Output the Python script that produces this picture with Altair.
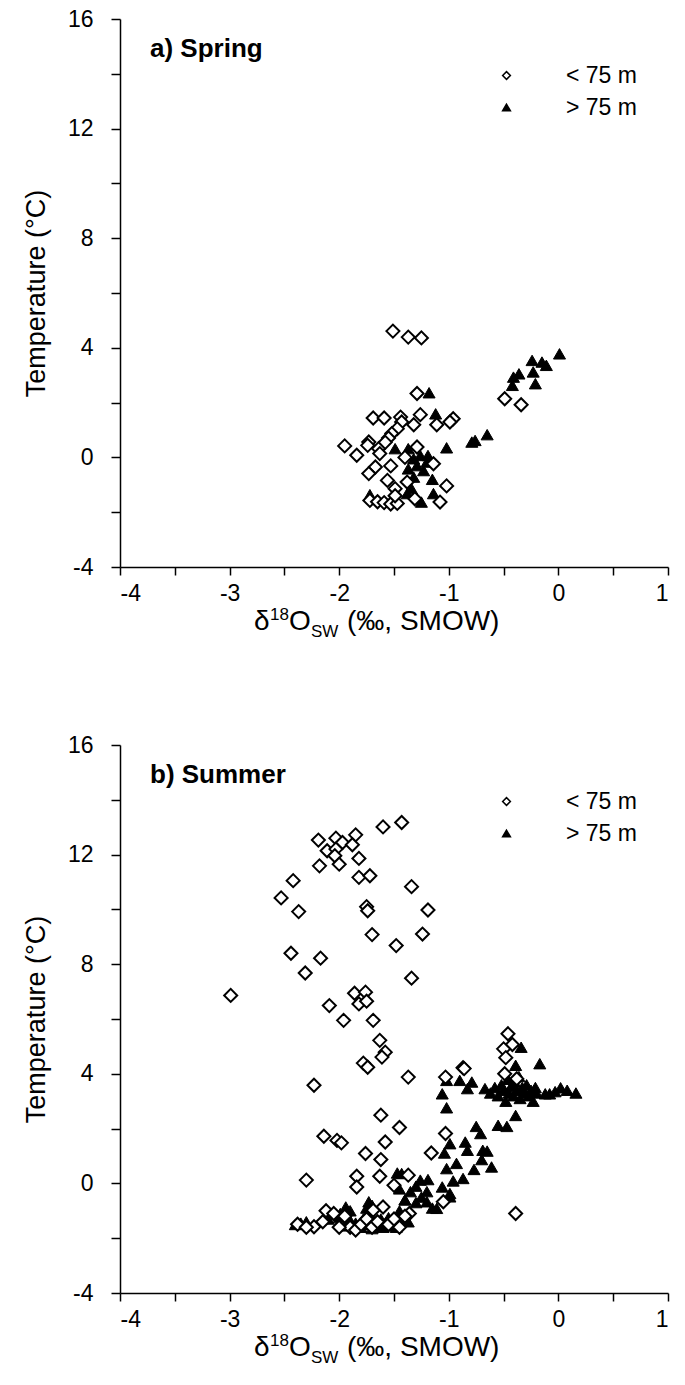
import altair as alt
import pandas as pd

GROUPS = ["< 75 m", "> 75 m"]

# ---- Panel a) Spring ----
spring_shallow_x = [-1.51, -1.37, -1.25, -1.29, -1.69, -1.59, -1.44, -1.26, -1.11, -0.96, -0.99, -1.32,
                    -1.43, -1.47, -1.52, -1.55, -1.95, -1.84, -1.73, -1.74, -1.64, -1.63, -1.29, -1.14,
                    -1.53, -1.67, -1.73, -1.56, -1.49, -1.38, -1.02, -1.08, -1.31, -1.72, -1.65, -1.59,
                    -1.53, -1.47, -1.49, -0.49, -0.34, -1.40, -1.58]
spring_shallow_y = [4.61, 4.39, 4.36, 2.33, 1.44, 1.44, 1.47, 1.56, 1.19, 1.41, 1.29, 1.19,
                    1.29, 1.05, 0.87, 0.71, 0.42, 0.08, 0.56, 0.44, 0.32, 0.14, 0.38, -0.23,
                    -0.31, -0.35, -0.59, -0.84, -1.14, -0.90, -1.04, -1.63, -1.51, -1.57, -1.62, -1.65,
                    -1.70, -1.68, -1.40, 2.14, 1.92, 0.00, 0.55]
spring_deep_x = [-1.18, -1.12, -1.49, -1.37, -1.02, -1.15, -1.14, -1.25, -1.72, -1.38, -1.34,
                 -1.32, -1.26, -1.19, -1.37, -1.29, -1.23, -1.32, -1.20,
                 -0.24, -0.15, -0.11, -0.36, -0.41, -0.23, -0.42, -0.21, 0.01, -0.65, -0.79, -0.76]
spring_deep_y = [2.36, 1.59, 0.32, 0.32, 0.35, -0.80, -1.32, -1.63, -1.36, -1.32, -1.14,
                 -0.05, 0.07, 0.07, -0.42, -0.30, -0.48, -0.72, -0.17,
                 3.54, 3.48, 3.36, 3.05, 2.93, 3.12, 2.63, 2.69, 3.78, 0.83, 0.56, 0.62]

# ---- Panel b) Summer ----
summer_shallow_x = [-1.43, -1.60, -2.19, -2.03, -1.85, -1.97, -2.11, -2.03, -1.88, -2.04, -2.18, -2.00,
                    -1.82, -1.82, -1.72, -2.42, -2.53, -2.37, -1.34, -1.75, -1.74, -1.19, -1.24, -1.70,
                    -1.48, -2.44, -2.17, -2.31, -1.34, -2.99, -1.86, -1.76, -1.82, -1.75, -2.09, -1.96,
                    -1.69, -1.63, -1.58, -1.61, -1.78, -1.74, -0.87, -1.37, -2.23, -1.62, -2.14, -2.02,
                    -1.98, -1.76, -1.58, -1.45, -1.62, -2.30, -1.84, -1.84, -1.63, -1.50, -2.12, -2.38,
                    -2.23, -2.15, -1.60, -0.46, -0.42, -0.50, -0.48, -0.86, -1.03, -0.49, -0.38, -1.03,
                    -1.16, -1.37, -1.05, -0.39, -1.36, -1.69,
                    -2.30, -1.95, -1.90, -1.85, -1.80, -1.75, -1.70, -1.65, -1.55, -1.45, -1.40, -2.00,
                    -2.05, -1.50]
summer_shallow_y = [13.17, 13.01, 12.53, 12.60, 12.72, 12.44, 12.14, 12.20, 12.36, 11.96, 11.59, 11.65,
                    11.86, 11.17, 11.23, 11.05, 10.42, 9.92, 10.83, 10.10, 9.95, 9.98, 9.10, 9.08,
                    8.68, 8.40, 8.22, 7.68, 7.49, 6.86, 6.94, 6.98, 6.55, 6.65, 6.49, 5.95,
                    5.95, 5.22, 4.79, 4.61, 4.39, 4.24, 4.22, 3.88, 3.58, 2.49, 1.72, 1.57,
                    1.48, 1.09, 1.51, 2.04, 0.87, 0.12, 0.26, -0.13, 0.26, -0.07, -1.00, -1.49,
                    -1.58, -1.40, -0.86, 5.46, 5.07, 4.91, 4.59, 4.19, 3.88, 4.00, 3.82, 1.82,
                    1.11, 0.30, -0.67, -1.10, -1.10, -0.98,
                    -1.60, -1.20, -1.60, -1.70, -1.50, -1.30, -1.60, -1.40, -1.50, -1.60, -1.20, -1.60,
                    -1.10, -1.30]
summer_deep_x = [-2.30, -1.99, -1.94, -1.73, -0.34, -0.17, -0.39, -1.02, -0.90, -0.79, -0.83, -1.06, -0.67,
                 -0.62, -0.58, -0.55, -0.52, -0.50, -0.48, -0.46, -0.45, -0.43, -0.41, -0.40, -0.38,
                 -0.36, -0.35, -0.33, -0.31, -0.29, -0.27, -0.25, -0.23, -0.21, -0.20,
                 -0.08, 0.02, 0.08, 0.16, -0.12, -0.03,
                 -1.02, -0.39, -0.55, -0.47, -0.75, -0.71, -0.99, -0.85, -0.83, -0.69, -0.65, -0.70,
                 -1.04, -0.93, -1.02, -0.77, -0.61, -0.87, -0.96, -1.47, -1.43, -1.26, -1.19, -1.06,
                 -0.99, -0.99, -1.20, -1.11, -1.37,
                 -1.35, -1.45, -1.30, -1.25, -1.20, -1.30, -1.40, -1.15,
                 -2.40, -2.35, -2.10, -2.00, -1.95, -1.90, -1.85, -1.80, -1.78, -1.75, -1.72, -1.70,
                 -1.68, -1.65, -1.62, -1.60, -1.58, -1.55, -1.52, -1.50, -1.48, -1.45, -1.42, -1.90,
                 -1.75, -1.70, -1.45, -1.40]
summer_deep_y = [-1.40, -1.10, -0.86, -0.67, 4.97, 4.37, 4.31, 3.76, 3.76, 3.70, 3.46, 3.27, 3.46,
                 3.30, 3.50, 3.20, 3.60, 3.40, 3.00, 3.80, 3.30, 3.55, 3.20, 3.70, 3.40,
                 3.90, 3.10, 3.50, 3.30, 3.60, 3.20, 3.40, 3.00, 3.50, 3.30,
                 3.27, 3.49, 3.40, 3.30, 3.27, 3.35,
                 2.76, 2.48, 2.12, 2.08, 2.08, 1.82, 1.45, 1.51, 1.21, 1.21, 1.18, 0.87,
                 1.11, 0.73, 0.54, 0.51, 0.60, 0.18, 0.09, 0.38, 0.36, 0.12, 0.14, -0.13,
                 -0.37, -0.49, -0.67, -0.91, -1.40,
                 -0.30, -0.20, -0.10, -0.50, -0.30, -0.70, -0.60, -0.90,
                 -1.50, -1.45, -1.30, -1.25, -1.55, -1.35, -1.45, -1.60, -1.30, -1.50, -1.20, -1.65,
                 -1.40, -1.55, -1.30, -1.60, -1.45, -1.25, -1.55, -1.35, -1.60, -1.45, -1.30, -1.00,
                 -0.90, -0.80, -1.00, -0.60]

X_TICKS = [-4, -3.5, -3, -2.5, -2, -1.5, -1, -0.5, 0, 0.5, 1]
Y_TICKS = [-4, -2, 0, 2, 4, 6, 8, 10, 12, 14, 16]

W, H = 548, 548
FONT = "Liberation Sans"


def frame(xs, ys, group):
    return pd.DataFrame({"d18O": xs, "temp": ys, "group": group})


def panel(title, sx, sy, dx, dy):
    df = pd.concat([frame(dx, dy, GROUPS[1]), frame(sx, sy, GROUPS[0])], ignore_index=True)
    legend = alt.Legend(title=None, orient="none", legendX=375, legendY=45, padding=0,
                        symbolSize=60, symbolStrokeWidth=1.5,
                        labelFont=FONT, labelFontSize=23, labelColor="black",
                        labelOffset=48, rowPadding=8)
    enc = dict(
        x=alt.X("d18O:Q", scale=alt.Scale(domain=[-4, 1], nice=False, zero=False),
                axis=alt.Axis(values=X_TICKS, title=None, labelPadding=7, tickSize=8,
                              labelExpr="datum.value % 1 == 0 ? '' + datum.value : ''")),
        y=alt.Y("temp:Q", scale=alt.Scale(domain=[-4, 16], nice=False, zero=False),
                axis=alt.Axis(values=Y_TICKS, title="Temperature (°C)", labelPadding=18,
                              titleFontSize=27, titlePadding=17,
                              labelExpr="datum.value % 4 == 0 ? '' + datum.value : ''")),
        shape=alt.Shape("group:N", scale=alt.Scale(domain=GROUPS, range=["diamond", "triangle-up"]),
                        legend=legend),
        fill=alt.Fill("group:N", scale=alt.Scale(domain=GROUPS, range=["white", "black"]),
                      legend=legend),
        stroke=alt.Stroke("group:N", scale=alt.Scale(domain=GROUPS, range=["black", "black"]),
                          legend=legend),
    )
    base = alt.Chart(df)
    deep = base.transform_filter(alt.datum.group == GROUPS[1]).mark_point(
        filled=True, strokeWidth=1, size=145, opacity=1).encode(**enc)
    shallow = base.transform_filter(alt.datum.group == GROUPS[0]).mark_point(
        filled=True, strokeWidth=2, size=170, opacity=1).encode(**enc)

    ttl = alt.Chart(pd.DataFrame({"t": [title]})).mark_text(
        align="left", baseline="middle", font=FONT, fontSize=26, fontWeight="bold", color="black"
    ).encode(text="t:N", x=alt.value(30), y=alt.value(30))

    # x-axis title pieces: δ 18 O SW (‰, SMOW)
    base_y = H + 63

    def piece(txt, xpos, ypos, size):
        return alt.Chart(pd.DataFrame({"t": [txt]})).mark_text(
            align="left", baseline="alphabetic", font=FONT, fontSize=size, color="black"
        ).encode(text="t:N", x=alt.value(xpos), y=alt.value(ypos))

    x0 = 134
    pieces = [
        piece("δ", x0, base_y, 28),
        piece("18", x0 + 16, base_y - 10, 17),
        piece("O", x0 + 35, base_y, 28),
        piece("SW", x0 + 57, base_y + 7, 17),
        piece("(‰, SMOW)", x0 + 93, base_y, 28),
    ]

    return alt.layer(deep, shallow, ttl, *pieces).properties(width=W, height=H)


pa = panel("a) Spring", spring_shallow_x, spring_shallow_y, spring_deep_x, spring_deep_y)
pb = panel("b) Summer", summer_shallow_x, summer_shallow_y, summer_deep_x, summer_deep_y)

chart = alt.vconcat(pa, pb, spacing=94).resolve_scale(
    shape="independent", fill="independent", stroke="independent"
).resolve_legend(shape="independent", fill="independent", stroke="independent").configure_view(
    stroke=None
).configure_axis(
    grid=False, domainColor="black", domainWidth=1.5, tickColor="black", tickWidth=1.5,
    tickSize=9, labelFont=FONT, labelFontSize=23, labelColor="black",
    titleFont=FONT, titleFontWeight="normal", titleColor="black"
).properties(padding={"left": 22, "top": 8, "right": 5, "bottom": 5}, background="white")

chart.save("out.html", embed_options={"renderer": "svg", "actions": False})
